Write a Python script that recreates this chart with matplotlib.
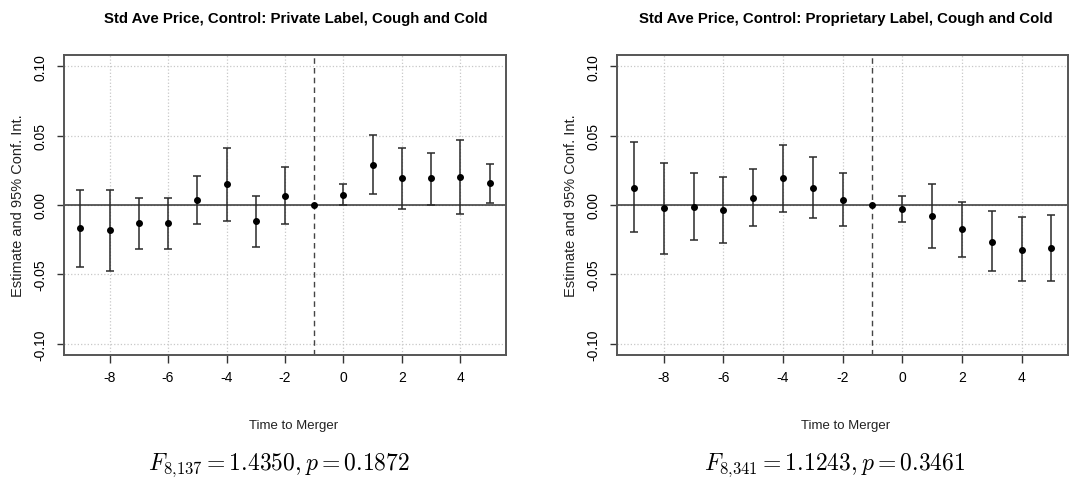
import matplotlib
matplotlib.use("Agg")
import matplotlib.pyplot as plt
from matplotlib import font_manager

plt.rcParams['mathtext.fontset'] = 'cm'

# event time
periods = [-9, -8, -7, -6, -5, -4, -3, -2, -1, 0, 1, 2, 3, 4, 5]

# private label control
priv_est = [-0.0168, -0.0183, -0.0132, -0.0132, 0.0038, 0.0149, -0.0115, 0.0067, 0.0,
            0.0075, 0.0288, 0.0192, 0.0192, 0.0200, 0.0156]
priv_lo = [-0.0450, -0.0478, -0.0315, -0.0315, -0.0139, -0.0115, -0.0300, -0.0139, 0.0,
           0.0000, 0.0077, -0.0029, 0.0002, -0.0065, 0.0017]
priv_hi = [0.0108, 0.0108, 0.0050, 0.0050, 0.0209, 0.0413, 0.0067, 0.0274, 0.0,
           0.0154, 0.0505, 0.0413, 0.0375, 0.0471, 0.0293]

# proprietary label control
prop_est = [0.0125, -0.0022, -0.0014, -0.0036, 0.0053, 0.0192, 0.0125, 0.0036, 0.0,
            -0.0031, -0.0079, -0.0175, -0.0264, -0.0322, -0.0308]
prop_lo = [-0.0197, -0.0353, -0.0250, -0.0272, -0.0154, -0.0050, -0.0096, -0.0154, 0.0,
           -0.0125, -0.0310, -0.0375, -0.0478, -0.0550, -0.0550]
prop_hi = [0.0454, 0.0300, 0.0228, 0.0200, 0.0257, 0.0433, 0.0349, 0.0228, 0.0,
           0.0067, 0.0149, 0.0024, -0.0043, -0.0087, -0.0072]

titles = ["Std Ave Price, Control: Private Label, Cough and Cold",
          "Std Ave Price, Control: Proprietary Label, Cough and Cold"]
ftests = [r"$F_{8{,}137} = 1.4350, p = 0.1872$",
          r"$F_{8{,}341} = 1.1243, p = 0.3461$"]

xticks = [-8, -6, -4, -2, 0, 2, 4]
yticks = [-0.10, -0.05, 0.00, 0.05, 0.10]
ytick_labels = ["-0.10", "-0.05", "0.00", "0.05", "0.10"]

installed = {f.name for f in font_manager.fontManager.ttflist}
narrow = ['Liberation Sans Narrow', 'DejaVu Sans'] if 'Liberation Sans Narrow' in installed \
    else ['Liberation Sans', 'DejaVu Sans']

fig = plt.figure(figsize=(10.7, 4.81), dpi=100)
axes_pos = [[0.0598, 0.2599, 0.4131, 0.6237],
            [0.5769, 0.2599, 0.4213, 0.6237]]
title_x = [296, 846]
xlab_x = [294, 846]
f_x = [279, 835]

panels = [(priv_est, priv_lo, priv_hi), (prop_est, prop_lo, prop_hi)]

for i, (est, lo, hi) in enumerate(panels):
    ax = fig.add_axes(axes_pos[i])
    ax.set_xlim(-9.56, 5.56)
    ax.set_ylim(-0.108, 0.108)
    ax.grid(True, color='#c8c8c8', linestyle=':', linewidth=0.9)
    ax.set_axisbelow(True)
    ax.axhline(0, color='#333333', linewidth=1.1, zorder=2)
    ax.axvline(-1, color='#444444', linestyle=(0, (4, 3)), linewidth=1.0, zorder=2)
    x = [p for p in periods if p != -1]
    e = [est[k] for k, p in enumerate(periods) if p != -1]
    err_lo = [est[k] - lo[k] for k, p in enumerate(periods) if p != -1]
    err_hi = [hi[k] - est[k] for k, p in enumerate(periods) if p != -1]
    ax.errorbar(x, e, yerr=[err_lo, err_hi], fmt='none', ecolor='#2a2a2a',
                elinewidth=1.1, capsize=3, capthick=1.1, zorder=3)
    ax.plot(periods, est, 'o', color='black', markersize=4, zorder=4)
    ax.set_xticks(xticks)
    ax.set_xticklabels([str(t) for t in xticks], family=narrow, fontsize=10)
    ax.set_yticks(yticks)
    ax.set_yticklabels(ytick_labels, rotation=90, va='center', fontsize=10,
                       family=['Liberation Sans', 'DejaVu Sans'])
    ax.tick_params(axis='x', length=6, width=1, color='#333333', pad=5)
    ax.tick_params(axis='y', length=5, width=1, color='#333333', pad=7)
    for s in ax.spines.values():
        s.set_color('#555555')
        s.set_linewidth(1.4)
    ax.set_ylabel("Estimate and 95% Conf. Int.", fontsize=10.5, color='#222222',
                  family=['Liberation Sans', 'DejaVu Sans'], labelpad=6)

    fig.text(title_x[i] / 1070, 1 - 19 / 481, titles[i], ha='center', va='center',
             fontsize=10.8, fontweight='bold', family=narrow)
    fig.text(xlab_x[i] / 1070, 1 - 426 / 481, "Time to Merger", ha='center', va='center',
             fontsize=9.5, family=narrow, color='#222222')
    fig.text(f_x[i] / 1070, 1 - 465 / 481, ftests[i], ha='center', va='center',
             fontsize=17)

fig.savefig("out.png", dpi=100)
